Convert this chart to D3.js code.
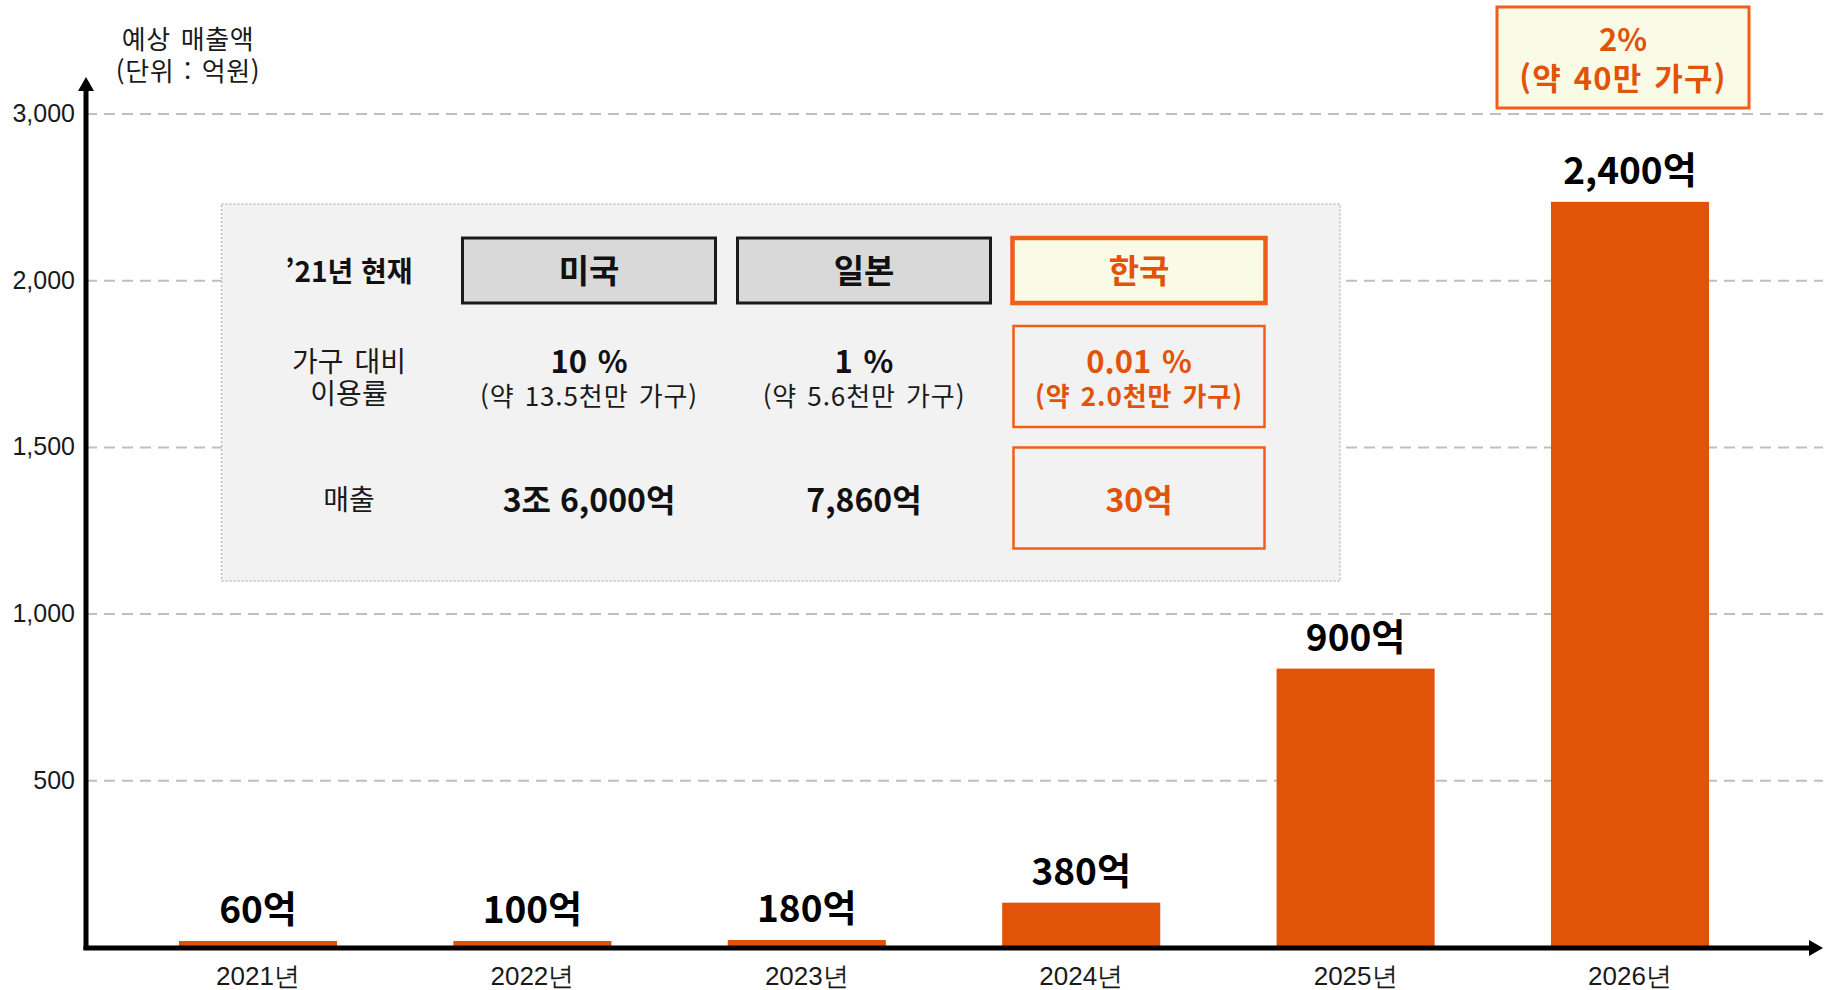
<!DOCTYPE html>
<html lang="ko">
<head>
<meta charset="utf-8">
<title>예상 매출액</title>
<script src="https://cdn.jsdelivr.net/npm/d3@7"></script>
<style>
  body { margin: 0; background: #fff; }
  svg { display: block; font-family: "Noto Sans CJK KR", "Noto Sans", sans-serif; }
</style>
</head>
<body>
<script>
// chart data
const years = ["2021년", "2022년", "2023년", "2024년", "2025년", "2026년"];
const revenue = [60, 100, 180, 380, 900, 2400];          // 억원, printed above bars
const barLevel = [18, 18, 21, 133, 835, 2470];           // bar top as read on the y axis
const yTicks = [500, 1000, 1500, 2000, 3000];

// comparison table
const countries = ["미국", "일본", "한국"];
const usageRate = ["10 %", "1 %", "0.01 %"];
const households = ["(약 13.5천만 가구)", "(약 5.6천만 가구)", "(약 2.0천만 가구)"];
const sales2021 = ["3조 6,000억", "7,860억", "30억"];
const rowHeaders = [["’21년 현재"], ["가구 대비", "이용률"], ["매출"]];
const target2026 = ["2%", "(약 40만 가구)"];

const W = 1829, H = 990;
const orange = "#e2530a", orangeLine = "#f05f1a", cream = "#f9fbe7";
const axisX = 86, baseY = 947, gridStep = 166.7;

const svg = d3.select("body").append("svg")
  .attr("width", W).attr("height", H);

// y scale: gridlines are evenly spaced although the labels jump 2,000 -> 3,000
const yDomain = [0].concat(yTicks);
const y = d3.scaleLinear()
  .domain(yDomain)
  .range(yDomain.map((d, i) => baseY - i * gridStep));

const x = d3.scaleBand()
  .domain(years)
  .range([120.8, 1767.2])
  .paddingInner(0.424)
  .paddingOuter(0.212);

// gridlines + tick labels
const yAxis = svg.append("g")
  .attr("transform", `translate(${axisX},0)`)
  .call(d3.axisLeft(y).tickValues(yTicks).tickSize(-(1823 - axisX)).tickPadding(11)
    .tickFormat(d3.format(",")));
yAxis.select(".domain").remove();
yAxis.selectAll(".tick line")
  .attr("stroke", "#bfbfbf").attr("stroke-width", 2).attr("stroke-dasharray", "11,7");
yAxis.selectAll(".tick text")
  .attr("fill", "#1a1a1a").style("font-size", "25px");

// y axis title
svg.append("text")
  .attr("text-anchor", "middle")
  .style("font-size", "26px").attr("fill", "#1a1a1a")
  .selectAll("tspan")
  .data(["예상 매출액", "(단위 : 억원)"]).enter().append("tspan")
  .attr("x", 188).attr("y", (d, i) => 48.5 + i * 32)
  .style("letter-spacing", "0.6px").style("word-spacing", "2px")
  .text(d => d);

// comparison panel
const panel = svg.append("g");
panel.append("rect")
  .attr("x", 221.5).attr("y", 204).attr("width", 1340 - 221.5).attr("height", 581 - 204)
  .attr("fill", "#f2f2f2").attr("stroke", "#bdbdbd").attr("stroke-width", 1.5)
  .attr("stroke-dasharray", "2,2");

const col = d3.scaleBand()
  .domain(countries)
  .range([451.5, 1276.5])
  .paddingInner(0.08)
  .paddingOuter(0.04);
const headerX = 349;

// row headers
panel.append("text").attr("x", headerX).attr("y", 270)
  .attr("text-anchor", "middle").attr("dominant-baseline", "central")
  .style("font-size", "28px").style("font-weight", "bold").attr("fill", "#111")
  .text(rowHeaders[0][0]);
panel.append("text")
  .attr("text-anchor", "middle")
  .style("font-size", "28px").attr("fill", "#1a1a1a")
  .selectAll("tspan")
  .data(rowHeaders[1]).enter().append("tspan")
  .attr("x", headerX).attr("y", (d, i) => 371.5 + i * 32)
  .style("word-spacing", "3px")
  .text(d => d);
panel.append("text").attr("x", headerX).attr("y", 498)
  .attr("text-anchor", "middle").attr("dominant-baseline", "central")
  .style("font-size", "28px").attr("fill", "#1a1a1a").text(rowHeaders[2][0]);

// country header boxes
const isKorea = d => d === "한국";
panel.selectAll("rect.head")
  .data(countries).enter().append("rect")
  .attr("class", "head")
  .attr("x", d => col(d)).attr("y", 238)
  .attr("width", col.bandwidth()).attr("height", 65)
  .attr("fill", d => isKorea(d) ? cream : "#d9d9d9")
  .attr("stroke", d => isKorea(d) ? orangeLine : "#1a1a1a")
  .attr("stroke-width", d => isKorea(d) ? 4.5 : 3);
panel.selectAll("text.head")
  .data(countries).enter().append("text")
  .attr("class", "head")
  .attr("x", d => col(d) + col.bandwidth() / 2).attr("y", 269)
  .attr("text-anchor", "middle").attr("dominant-baseline", "central")
  .style("font-size", "33px").style("font-weight", "bold")
  .attr("fill", d => isKorea(d) ? orange : "#111")
  .text(d => d);

// korea highlight boxes for rows 2 and 3
[[326, 101], [447.5, 101]].forEach(r => {
  panel.append("rect")
    .attr("x", col("한국") + 1).attr("y", r[0])
    .attr("width", col.bandwidth() - 2).attr("height", r[1])
    .attr("fill", "none").attr("stroke", orangeLine).attr("stroke-width", 2.5);
});

// usage rate row: rate + households as two lines of one text
const rate = panel.selectAll("text.rate")
  .data(countries).enter().append("text")
  .attr("class", "rate")
  .attr("text-anchor", "middle")
  .attr("fill", d => isKorea(d) ? orange : "#111");
rate.append("tspan")
  .attr("x", d => col(d) + col.bandwidth() / 2).attr("y", 373)
  .style("font-size", "31px").style("font-weight", "bold")
  .style("word-spacing", "2px")
  .text((d, i) => usageRate[i]);
rate.append("tspan")
  .attr("x", d => col(d) + col.bandwidth() / 2).attr("y", 406)
  .style("font-size", "26px")
  .style("font-weight", d => isKorea(d) ? "bold" : "normal")
  .style("letter-spacing", "0.9px").style("word-spacing", "2px")
  .attr("fill", d => isKorea(d) ? orange : "#1a1a1a")
  .text((d, i) => households[i]);

// sales row
panel.selectAll("text.sales")
  .data(countries).enter().append("text")
  .attr("class", "sales")
  .attr("x", d => col(d) + col.bandwidth() / 2).attr("y", 498)
  .attr("text-anchor", "middle").attr("dominant-baseline", "central")
  .style("font-size", "32px").style("font-weight", "bold")
  .attr("fill", d => isKorea(d) ? orange : "#111")
  .text((d, i) => sales2021[i]);

// bars
svg.selectAll("rect.bar")
  .data(years).enter().append("rect")
  .attr("class", "bar")
  .attr("x", d => x(d)).attr("width", x.bandwidth())
  .attr("y", (d, i) => y(barLevel[i]))
  .attr("height", (d, i) => y(0) - y(barLevel[i]))
  .attr("fill", orange);

// value labels
svg.selectAll("text.val")
  .data(years).enter().append("text")
  .attr("class", "val")
  .attr("x", d => x(d) + x.bandwidth() / 2)
  .attr("y", (d, i) => y(barLevel[i]) - 18)
  .attr("text-anchor", "middle")
  .style("font-size", "37px").style("font-weight", "bold").attr("fill", "#000")
  .text((d, i) => d3.format(",")(revenue[i]) + "억");

// x labels
const xAxis = svg.append("g")
  .attr("transform", `translate(0,${baseY})`)
  .call(d3.axisBottom(x).tickSize(0).tickPadding(0));
xAxis.select(".domain").remove();
xAxis.selectAll(".tick text")
  .attr("y", 29).attr("dy", null).attr("dominant-baseline", "central")
  .attr("fill", "#1a1a1a").style("font-size", "26px");

// axes with arrows
svg.append("line").attr("x1", axisX).attr("x2", axisX)
  .attr("y1", baseY + 3).attr("y2", 88)
  .attr("stroke", "#000").attr("stroke-width", 5);
svg.append("path")
  .attr("d", `M${axisX - 8},${91} L${axisX},${77} L${axisX + 8},${91} Z`)
  .attr("fill", "#000");
svg.append("line").attr("x1", axisX - 2.5).attr("x2", 1812)
  .attr("y1", baseY + 1).attr("y2", baseY + 1)
  .attr("stroke", "#000").attr("stroke-width", 5);
svg.append("path")
  .attr("d", `M1809,${baseY + 1 - 8} L1823,${baseY + 1} L1809,${baseY + 1 + 8} Z`)
  .attr("fill", "#000");

// 2026 target callout
const callout = svg.append("g");
callout.append("rect")
  .attr("x", 1497).attr("y", 7).attr("width", 252).attr("height", 101)
  .attr("fill", cream).attr("stroke", orangeLine).attr("stroke-width", 3);
callout.append("text")
  .attr("text-anchor", "middle")
  .style("font-size", "31px").style("font-weight", "bold").attr("fill", orange)
  .selectAll("tspan")
  .data(target2026).enter().append("tspan")
  .attr("x", 1623).attr("y", (d, i) => 51 + i * 38.5)
  .style("letter-spacing", (d, i) => i ? "1.2px" : "0px")
  .style("word-spacing", "2px")
  .text(d => d);
</script>
</body>
</html>
